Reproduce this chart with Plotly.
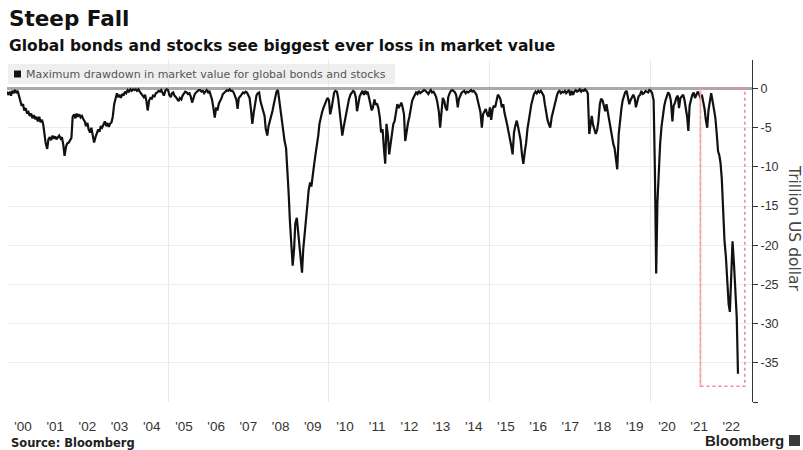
import pandas as pd
import plotly.graph_objects as go

# ---- text ----
title = "Steep Fall"
subtitle = "Global bonds and stocks see biggest ever loss in market value"
series_name = "Maximum drawdown in market value for global bonds and stocks"
y_title = "Trillion US dollar"
source = "Source: Bloomberg"
brand = "Bloomberg"

year_labels = ["'00", "'01", "'02", "'03", "'04", "'05", "'06", "'07", "'08", "'09", "'10", "'11",
               "'12", "'13", "'14", "'15", "'16", "'17", "'18", "'19", "'20", "'21", "'22"]
y_ticks = [0, -5, -10, -15, -20, -25, -30, -35, -40]
y_ticklabels = ["0", "-5", "-10", "-15", "-20", "-25", "-30", "-35", ""]

# ---- data: semi-monthly drawdown (trillion USD) ----
dd_2000 = [-0.4,-0.7,-0.5,-0.9,-0.3,-0.6,-0.2,-0.5,-0.3,-0.8,-1.5,-2.2,-2.0,-2.8,-2.5,-3.2,-3.0,-3.5,-3.2,-3.8,-3.4,-3.9,-3.6,-4.2]
dd_2001 = [-3.6,-4.3,-4.0,-4.6,-5.8,-7.0,-7.7,-6.5,-6.2,-6.6,-6.0,-6.4,-6.1,-6.5,-6.2,-6.0,-6.4,-6.2,-7.2,-8.6,-7.4,-7.0,-6.9,-6.6]
dd_2002 = [-6.3,-3.6,-3.3,-3.8,-3.2,-3.6,-3.3,-3.7,-3.5,-3.9,-4.2,-4.8,-4.4,-5.2,-5.6,-5.0,-6.0,-6.9,-6.2,-5.6,-5.2,-5.5,-4.8,-5.0]
dd_2003 = [-4.5,-4.2,-4.8,-4.4,-4.9,-4.5,-4.3,-3.6,-2.0,-1.2,-0.6,-1.1,-0.8,-1.2,-0.7,-0.9,-0.4,-0.6,-0.2,-0.4,-0.1,-0.3,-0.1,-0.2]
dd_2004 = [-0.1,-0.3,-0.1,-0.4,-0.6,-0.9,-1.1,-0.8,-1.6,-2.8,-1.5,-1.2,-1.3,-0.9,-1.0,-0.6,-0.5,-0.3,-0.4,-0.2,-0.6,-0.9,-0.3,-0.1]
dd_2005 = [-0.2,-0.8,-1.1,-0.6,-0.5,-0.9,-1.1,-1.3,-1.6,-1.2,-1.4,-0.9,-0.7,-0.4,-0.5,-0.7,-0.6,-1.0,-1.8,-1.2,-0.7,-0.5,-0.3,-0.2]
dd_2006 = [-0.2,-0.4,-0.3,-0.6,-0.4,-0.2,-0.5,-0.3,-0.9,-1.4,-2.6,-3.7,-2.4,-2.8,-1.9,-1.6,-1.2,-0.7,-0.5,-0.4,-0.2,-0.3,-0.1,-0.3]
dd_2007 = [-0.3,-0.5,-0.9,-1.4,-2.6,-1.2,-1.0,-0.7,-0.5,-0.6,-0.4,-0.5,-0.9,-1.2,-2.8,-4.5,-3.0,-2.0,-0.9,-0.6,-0.5,-1.6,-2.2,-2.8]
dd_2008 = [-3.5,-5.2,-6.0,-4.8,-4.2,-3.4,-2.8,-2.0,-1.2,-0.4,-0.2,-1.5,-2.8,-4.3,-5.4,-6.7,-7.6,-9.8,-13.5,-17.0,-19.5,-22.6,-20.5,-17.2]
dd_2009 = [-16.5,-18.0,-19.6,-21.5,-23.5,-20.5,-18.0,-16.0,-14.8,-13.0,-12.0,-12.5,-10.5,-9.8,-8.4,-7.4,-6.0,-4.5,-3.6,-3.0,-2.4,-2.0,-1.7,-1.2]
dd_2010 = [-1.5,-3.3,-2.4,-1.2,-0.5,-0.3,-0.4,-1.2,-2.8,-4.6,-6.0,-5.0,-4.0,-2.8,-2.0,-1.4,-0.8,-0.5,-0.3,-0.4,-1.1,-2.9,-1.8,-1.0]
dd_2011 = [-0.6,-0.3,-0.8,-0.3,-0.6,-0.4,-1.2,-2.0,-2.8,-2.4,-1.4,-2.0,-2.0,-2.5,-3.7,-5.6,-5.2,-7.5,-9.6,-4.5,-6.0,-8.4,-7.1,-6.2]
dd_2012 = [-4.5,-4.2,-2.8,-2.0,-2.5,-2.2,-1.8,-2.4,-3.3,-6.7,-5.2,-4.4,-3.6,-2.4,-1.6,-1.2,-0.8,-0.5,-0.7,-0.3,-0.6,-0.5,-0.4,-0.2]
dd_2013 = [-0.3,-0.5,-0.7,-0.4,-0.2,-0.5,-0.4,-0.7,-1.1,-1.8,-3.0,-5.0,-2.4,-1.2,-1.6,-2.4,-2.8,-1.1,-0.6,-0.3,-0.2,-0.4,-0.5,-0.9]
dd_2014 = [-2.4,-1.3,-0.7,-0.5,-0.4,-0.3,-0.6,-0.4,-0.5,-0.3,-0.2,-0.4,-0.3,-0.5,-0.8,-1.5,-2.2,-3.0,-5.0,-3.3,-2.9,-2.6,-3.3,-3.6]
dd_2015 = [-2.4,-4.0,-2.6,-2.2,-2.4,-1.6,-0.8,-1.0,-1.4,-2.4,-2.0,-3.1,-3.8,-4.6,-5.6,-6.7,-7.4,-8.4,-5.6,-4.8,-4.1,-4.8,-5.6,-6.6]
dd_2016 = [-8.6,-9.6,-8.0,-7.0,-5.2,-4.0,-3.1,-2.0,-1.3,-0.7,-0.4,-0.6,-0.3,-0.5,-0.3,-0.6,-0.9,-2.0,-3.1,-4.0,-4.6,-5.0,-3.7,-3.0]
dd_2017 = [-2.2,-1.4,-0.8,-0.4,-0.3,-0.6,-0.4,-0.5,-0.3,-0.6,-0.4,-0.2,-0.9,-0.3,-0.8,-0.4,-0.2,-0.4,-0.3,-0.1,-0.4,-0.2,-0.3,-0.1]
dd_2018 = [-0.3,-0.6,-5.8,-4.2,-3.5,-4.6,-5.2,-5.8,-5.3,-4.2,-2.0,-1.3,-1.5,-2.2,-2.9,-2.0,-3.2,-4.2,-5.0,-6.0,-7.1,-7.6,-9.0,-10.3]
dd_2019 = [-5.8,-4.0,-2.5,-1.5,-0.8,-0.5,-0.3,-1.0,-2.0,-1.5,-1.0,-0.8,-1.2,-2.4,-1.6,-1.0,-0.8,-0.3,-0.7,-0.6,-0.3,-0.4,-0.5,-0.2]
dd_2020 = [-0.3,-0.6,-1.5,-10.1,-23.6,-14.5,-9.0,-7.0,-4.8,-3.3,-2.2,-1.5,-1.0,-0.5,-0.8,-1.6,-4.2,-2.2,-1.8,-1.2,-0.9,-2.5,-1.2,-1.0]
dd_2021 = [-0.8,-1.4,-2.5,-3.6,-5.4,-2.2,-1.4,-0.8,-0.5,-1.2,-0.8,-0.4,-0.7,-1.2,-0.8,-1.6,-2.6,-4.0,-5.0,-2.8,-1.2,-0.6,-1.6,-2.5]
dd_2022 = [-3.7,-5.5,-8.0,-8.5,-9.5,-11.5,-16.0,-19.4,-21.5,-25.0,-27.5,-28.5,-24.0,-19.5,-22.5,-25.5,-29.2,-36.4]

drawdown = (dd_2000 + dd_2001 + dd_2002 + dd_2003 + dd_2004 + dd_2005 + dd_2006 + dd_2007 +
            dd_2008 + dd_2009 + dd_2010 + dd_2011 + dd_2012 + dd_2013 + dd_2014 + dd_2015 +
            dd_2016 + dd_2017 + dd_2018 + dd_2019 + dd_2020 + dd_2021 + dd_2022)
dates = pd.date_range("2000-01-01", periods=len(drawdown), freq="SMS")

highlight_start = "2021-07-16"
highlight_end = "2022-12-02"
highlight_floor = -38

# ---- geometry helpers (pixels -> paper) ----
W, H = 803, 450
L, R, T, B = 7, 51, 60, 48
PW, PH = W - L - R, H - T - B


def px(x):
    return (x - L) / PW


def py(y):
    return (H - B - y) / PH


FONT = "DejaVu Sans"
TICKFONT = "Liberation Sans"

fig = go.Figure()
fig.add_trace(go.Scatter(x=dates, y=drawdown, mode="lines",
                         line=dict(color="#111111", width=2.2),
                         name=series_name, showlegend=False, hoverinfo="skip"))

fig.update_layout(
    width=W, height=H,
    margin=dict(l=L, r=R, t=T, b=B, autoexpand=False),
    paper_bgcolor="white", plot_bgcolor="white",
    showlegend=False,
    xaxis=dict(
        type="date", automargin=False,
        range=["2000-01-01", "2023-02-21"],
        showgrid=False, zeroline=False, showline=False,
        tickmode="array",
        tickvals=[f"{2000 + i}-07-01" for i in range(len(year_labels))],
        ticktext=year_labels,
        ticks="", ticklabelstandoff=14,
        tickfont=dict(family=TICKFONT, size=13.5, color="#333333"),
        minor=dict(tickvals=["2005-01-01", "2010-01-01", "2015-01-01", "2020-01-01"],
                   showgrid=True, gridcolor="#e9e9e9", gridwidth=1, ticks=""),
    ),
    yaxis=dict(
        side="right", automargin=False,
        range=[-40, 3.64],
        tickmode="array", tickvals=y_ticks, ticktext=y_ticklabels,
        showgrid=True, gridcolor="#ececec", gridwidth=1,
        zeroline=True, zerolinecolor="#a9a9a9", zerolinewidth=2.5,
        showline=True, linecolor="#333333", linewidth=1,
        ticks="outside", ticklen=5, tickcolor="#333333", tickwidth=1,
        tickfont=dict(family=TICKFONT, size=12.5, color="#333333"),
    ),
)

shapes = [
    dict(type="rect", xref="paper", yref="paper", x0=px(8), x1=px(395), y0=py(84), y1=py(64),
         fillcolor="#efefef", line=dict(width=0), layer="below"),
    dict(type="rect", xref="paper", yref="paper", x0=px(14), x1=px(21), y0=py(77.5), y1=py(70.5),
         fillcolor="#111111", line=dict(width=0)),
    dict(type="rect", xref="x", yref="y", x0=highlight_start, x1=highlight_end,
         y0=highlight_floor, y1=0, line=dict(color="#ee8a96", width=1.5, dash="dot"),
         fillcolor="rgba(0,0,0,0)"),
    dict(type="line", xref="x", yref="y", x0=highlight_start, x1=highlight_start,
         y0=highlight_floor, y1=0, line=dict(color="#f4a7b0", width=1.5)),
    dict(type="rect", xref="paper", yref="paper", x0=px(789), x1=px(800), y0=py(446), y1=py(435),
         fillcolor="#3a3a3a", line=dict(width=0)),
]
fig.update_layout(shapes=shapes)

annotations = [
    dict(text=f"<b>{title}</b>", x=px(7), y=py(18), xref="paper", yref="paper",
         xanchor="left", yanchor="middle", showarrow=False,
         font=dict(family=FONT, size=21.5, color="#111111")),
    dict(text=f"<b>{subtitle}</b>", x=px(7), y=py(46), xref="paper", yref="paper",
         xanchor="left", yanchor="middle", showarrow=False,
         font=dict(family=FONT, size=15.5, color="#111111")),
    dict(text=series_name, x=px(24), y=py(74), xref="paper", yref="paper",
         xanchor="left", yanchor="middle", showarrow=False,
         font=dict(family=FONT, size=11, color="#555555")),
    dict(text=y_title, x=px(794), y=py(228), xref="paper", yref="paper",
         xanchor="center", yanchor="middle", textangle=90, showarrow=False,
         font=dict(family=FONT, size=15.5, color="#444444")),
    dict(text=f"<b>{source}</b>", x=px(9), y=py(443), xref="paper", yref="paper",
         xanchor="left", yanchor="middle", showarrow=False,
         font=dict(family=FONT, size=11.5, color="#222222")),
    dict(text=f"<b>{brand}</b>", x=px(786), y=py(440), xref="paper", yref="paper",
         xanchor="right", yanchor="middle", showarrow=False,
         font=dict(family=TICKFONT, size=15, color="#222222")),
]
fig.update_layout(annotations=annotations)

fig.write_html(
    "out.html",
    config={"displayModeBar": False},
    post_script="document.body.style.margin='0';document.body.style.padding='0';"
                "document.documentElement.style.overflow='hidden';",
)
